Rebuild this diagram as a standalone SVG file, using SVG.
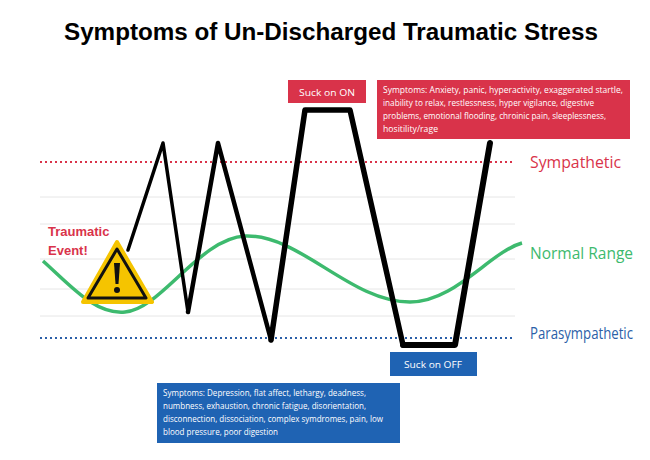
<svg xmlns="http://www.w3.org/2000/svg" width="650" height="460" viewBox="0 0 650 460">
<style>
.grid{stroke:#e6e6e6;stroke-width:1}
.box{font-family:"Open Sans","Liberation Sans",sans-serif;fill:#fff;font-size:9.5px}
.lbl{font-family:"Open Sans","Liberation Sans",sans-serif;font-size:16px}
.blk{fill:none;stroke:#000;stroke-linejoin:round;stroke-linecap:round}
</style>
<rect width="650" height="460" fill="#fff"/>
<text x="331" y="40" text-anchor="middle" font-family="Liberation Sans,Arial,sans-serif" font-weight="bold" font-size="23" textLength="534" lengthAdjust="spacingAndGlyphs">Symptoms of Un-Discharged Traumatic Stress</text>
<g id="grid">
<line class="grid" x1="40" y1="197" x2="515" y2="197"/>
<line class="grid" x1="40" y1="224" x2="515" y2="224"/>
<line class="grid" x1="40" y1="259" x2="515" y2="259"/>
<line class="grid" x1="40" y1="289" x2="515" y2="289"/>
<line class="grid" x1="40" y1="316" x2="515" y2="316"/>
<line x1="40" y1="162" x2="515" y2="162" stroke="#d9334a" stroke-width="2" stroke-dasharray="2,3"/>
<line x1="40" y1="338" x2="515" y2="338" stroke="#2b5fa8" stroke-width="2" stroke-dasharray="2,3"/>
</g>
<g id="normal-curve">
<path d="M43,261 C70,285 95,315 125,312 C160,310 200,238 245,236 C300,234 350,302 410,302 C455,302 490,252 522,243" fill="none" stroke="#3dba6e" stroke-width="3.5"/>
</g>
<g id="connectors">
<path class="blk" stroke-width="3.5" d="M128,250 L163,143 L188,312"/>
<path class="blk" stroke-width="4.5" d="M188,312 L218,143 L271,340"/>
<path class="blk" stroke-width="5.5" d="M271,340 L305,110 L350,110 L403,345"/>
<path class="blk" stroke-width="6" d="M403,345 L455,345 L490,143"/>
</g>
<g id="traumatic-event">
<text x="48" y="236" font-family="Liberation Sans,Arial,sans-serif" font-weight="bold" font-size="13" fill="#d9334a">Traumatic</text>
<text x="48" y="255" font-family="Liberation Sans,Arial,sans-serif" font-weight="bold" font-size="13" fill="#d9334a">Event!</text>
<polygon points="117,242 152,302 83,302" fill="#f5c400" stroke="#f5c400" stroke-width="4" stroke-linejoin="round"/>
<polygon points="117,249 146,298 88,298" fill="#f5c400" stroke="#111" stroke-width="3" stroke-linejoin="round"/>
<path d="M114,263 L120,263 L118.5,284 L115.5,284 Z" fill="#111"/>
<circle cx="117" cy="290" r="3" fill="#111"/>
</g>
<g id="suck-on">
<rect x="288" y="80" width="78" height="23" fill="#d9334a"/>
<text class="box" x="327" y="96" text-anchor="middle" font-size="11" textLength="56" lengthAdjust="spacingAndGlyphs">Suck on ON</text>
</g>
<g id="symptoms-on">
<rect x="377" y="80" width="253" height="59" fill="#d9334a"/>
<text class="box" x="383" y="93" textLength="240" lengthAdjust="spacingAndGlyphs">Symptoms: Anxiety, panic, hyperactivity, exaggerated startle,</text>
<text class="box" x="383" y="106" textLength="211" lengthAdjust="spacingAndGlyphs">inability to relax, restlessness, hyper vigilance, digestive</text>
<text class="box" x="383" y="119" textLength="223" lengthAdjust="spacingAndGlyphs">problems, emotional flooding, chroinic pain, sleeplessness,</text>
<text class="box" x="383" y="132" textLength="55" lengthAdjust="spacingAndGlyphs">hositility/rage</text>
</g>
<g id="sympathetic"><text class="lbl" x="530" y="168" fill="#d9334a" font-size="17" textLength="91" lengthAdjust="spacingAndGlyphs">Sympathetic</text></g>
<g id="normal-range"><text class="lbl" x="530" y="259" fill="#3dba6e" textLength="103" lengthAdjust="spacingAndGlyphs">Normal Range</text></g>
<g id="parasympathetic"><text class="lbl" x="530" y="339" fill="#2b5fa8" font-size="13.5" textLength="103" lengthAdjust="spacingAndGlyphs">Parasympathetic</text></g>
<g id="suck-off">
<rect x="390" y="352" width="87" height="24" fill="#1f63b3"/>
<text class="box" x="433" y="368" text-anchor="middle" font-size="11" textLength="58" lengthAdjust="spacingAndGlyphs">Suck on OFF</text>
</g>
<g id="symptoms-off">
<rect x="157" y="383" width="243" height="60" fill="#1f63b3"/>
<text class="box" x="163" y="396" textLength="203" lengthAdjust="spacingAndGlyphs">Symptoms: Depression, flat affect, lethargy, deadness,</text>
<text class="box" x="163" y="409" textLength="203" lengthAdjust="spacingAndGlyphs">numbness, exhaustion, chronic fatigue, disorientation,</text>
<text class="box" x="163" y="422" textLength="220" lengthAdjust="spacingAndGlyphs">disconnection, dissociation, complex symdromes, pain, low</text>
<text class="box" x="163" y="435" textLength="115" lengthAdjust="spacingAndGlyphs">blood pressure, poor digestion</text>
</g>
</svg>
